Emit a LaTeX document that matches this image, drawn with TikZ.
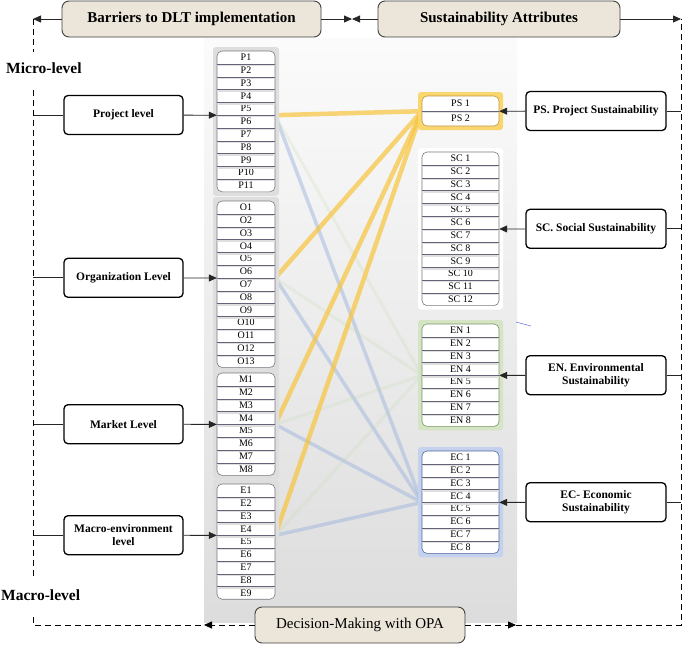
\documentclass[tikz,border=0pt]{standalone}
\usepackage{fontspec}
\setmainfont{Liberation Serif}
\usepackage{xcolor}
\usepackage{tikz}
\usetikzlibrary{arrows.meta}
\usetikzlibrary{backgrounds}
\usetikzlibrary{calc}

\definecolor{beige}{RGB}{236,230,218}
\definecolor{sepcol}{RGB}{100,100,120}
\definecolor{hlyellow}{RGB}{248,196,60}
\definecolor{hlblue}{RGB}{160,182,222}
\definecolor{hlgreen}{RGB}{190,218,165}
\definecolor{halogray}{RGB}{222,222,222}
\definecolor{haloPS}{RGB}{250,214,110}
\definecolor{haloEN}{RGB}{212,228,196}
\definecolor{haloEC}{RGB}{196,210,238}
\definecolor{edgegray}{RGB}{120,120,130}
\definecolor{edgePS}{RGB}{190,150,60}
\definecolor{edgeEN}{RGB}{120,150,100}
\definecolor{edgeEC}{RGB}{80,100,160}

\tikzset{
	headbox/.style={draw=black!75, fill=beige, rounded corners=7pt, line width=0.9pt, minimum height=36pt, font=\fontsize{15}{17}\selectfont\bfseries},
	levelbox/.style={draw, fill=white, rounded corners=4pt, line width=1.3pt, minimum width=119pt, minimum height=39pt, align=center, inner sep=2pt, font=\fontsize{11.5}{13}\selectfont\bfseries},
	attrbox/.style={levelbox, minimum width=140pt},
	cell/.style={minimum width=58pt, minimum height=12.8pt, inner sep=0pt, font=\fontsize{10}{11}\selectfont},
	rcell/.style={cell, minimum width=77pt},
	arr/.style={-{Triangle[length=8pt,width=7pt]}},
	rail/.style={dash pattern=on 6pt off 4pt, line width=0.8pt},
	wire/.style={line width=0.8pt, black!85},
	hl/.style={line width=4.5pt, opacity=0.7},
	sidelabel/.style={anchor=west, inner sep=0pt, font=\fontsize{15.5}{17}\selectfont\bfseries}
}

\begin{document}
\begin{tikzpicture}[x=1pt, y=-1pt, scale = 1]
		\useasboundingbox (0,0) rectangle (685,645);
		\begin{scope}[on background layer]
			\shade[top color=gray!3, bottom color=gray!27] (204,38) rectangle (517,622);
		\end{scope}
		\coordinate (railL) at (33,19);
		\coordinate (railR) at (681,19);
		\coordinate (meet) at (352,19);
		\coordinate (botL) at (204,625);
		\coordinate (botR) at (516,625);

		\node[headbox, minimum width=259pt] (barriers) at (191.5,19) {Barriers to DLT implementation};
		\node[headbox, minimum width=242pt] (sustain) at (499,19) {Sustainability Attributes};
		\node[headbox, minimum width=210pt, font=\fontsize{15}{17}\selectfont] (decision) at (360,625) {Decision-Making with OPA};
		\node[sidelabel] (micro) at (6,68) {Micro-level};
		\node[sidelabel] (macrolbl) at (1,595) {Macro-level};

		\foreach \nm/\n/\ytop in {P/11/51, O/13/201, M/8/373, E/9/484}{
			\pgfmathsetmacro{\ybot}{\ytop + \n*12.8}
			\fill[halogray, rounded corners=3pt] (213,{\ytop-4}) rectangle (279,{\ybot+4});
			\draw[edgegray, fill=white, rounded corners=5pt, line width=0.6pt] (217,\ytop) rectangle (275,\ybot);
			\foreach \i in {1,...,\n}
				\node[cell] (\nm\i) at (246,{\ytop + (\i-0.5)*12.8}) {\nm\i};
			\pgfmathtruncatemacro{\nsep}{\n-1}
			\foreach \i in {1,...,\nsep}{
				\draw[gray!25, line width=1.6pt] ([yshift=-1.3pt]\nm\i.south west) -- ([yshift=-1.3pt]\nm\i.south east);
				\draw[sepcol, line width=0.5pt] (\nm\i.south west) -- (\nm\i.south east);
			}
		}
		\foreach \nm/\n/\ytop/\rh/\hc/\ec in {PS/2/96/15/haloPS/edgePS, SC/12/152/12.8/white/edgegray, EN/8/324/12.8/haloEN/edgeEN, EC/8/451/12.8/haloEC/edgeEC}{
			\pgfmathsetmacro{\ybot}{\ytop + \n*\rh}
			\fill[\hc, rounded corners=3pt] (418,{\ytop-4}) rectangle (503,{\ybot+4});
			\draw[\ec, fill=white, rounded corners=5pt, line width=0.6pt] (422,\ytop) rectangle (499,\ybot);
			\foreach \i in {1,...,\n}
				\node[rcell, minimum height=\rh pt] (\nm\i) at (460.5,{\ytop + (\i-0.5)*\rh}) {\nm~\i};
			\pgfmathtruncatemacro{\nsep}{\n-1}
			\foreach \i in {1,...,\nsep}{
				\draw[gray!25, line width=1.6pt] ([yshift=-1.3pt]\nm\i.south west) -- ([yshift=-1.3pt]\nm\i.south east);
				\draw[sepcol, line width=0.5pt] (\nm\i.south west) -- (\nm\i.south east);
			}
		}

		\begin{scope}[on background layer]
			\foreach \src in {P5, O6, M4, E4}{
				\draw[hl, hlgreen, opacity=0.2, line width=3pt] (\src.south east) -- (EN4.south west);
				\draw[hl, hlblue, opacity=0.5, line width=3.5pt] (\src.south east) -- (EC4.south west);
				\draw[hl, hlyellow] (\src.south east) -- (PS1.south west);
			}
		\end{scope}
		\draw[hlblue!70!blue, line width=0.6pt] (516,322) -- (531,326);

		\node[levelbox] (project) at (123.5,115) {Project level};
		\node[levelbox] (organization) at (123.5,277.8) {Organization Level};
		\node[levelbox] (market) at (123.5,424.2) {Market Level};
		\node[levelbox] (macro) at (123.5,535.2) {Macro-environment\\level};
		\node[attrbox] (ps) at (596,111) {PS. Project Sustainability};
		\node[attrbox] (sc) at (596,228.8) {SC. Social Sustainability};
		\node[attrbox] (en) at (596,375.2) {EN. Environmental\\Sustainability};
		\node[attrbox] (ec) at (596,502.2) {EC- Economic\\Sustainability};

		\draw[wire, arr] (project) -- (P5.south west);
		\draw[wire, arr] (organization) -- (O6.south west);
		\draw[wire, arr] (market) -- (M4.south west);
		\draw[wire, arr] (macro) -- (E4.south west);
		\draw[wire, arr] (ps) -- (PS1.south east);
		\draw[wire, arr] (sc) -- (SC6.south east);
		\draw[wire, arr] (en) -- (EN4.south east);
		\draw[wire, arr] (ec) -- (EC4.south east);
		\foreach \b in {project, organization, market, macro}
			\draw[wire] (\b) -- (\b -| railL);
		\foreach \b in {ps, sc, en, ec}
			\draw[wire] (\b) -- (\b -| railR);

		\draw[wire, arr] (barriers) -- (railL);
		\draw[wire, arr] (sustain) -- (railR);
		\draw[wire, arr] (barriers) -- (meet);
		\draw[wire, arr] (sustain) -- (meet);
		\draw[rail] (railL) -- (33,52);
		\draw[rail] (33,90) -- (33,578);
		\draw[rail] (33,617) -- (33,625) -- (botL);
		\draw[rail, arr] (decision) -- (botL);
		\draw[rail, arr] (decision) -- (botR);
		\draw[rail] (botR) -- (681,625) -- (railR);
	\end{tikzpicture}
\end{document}
